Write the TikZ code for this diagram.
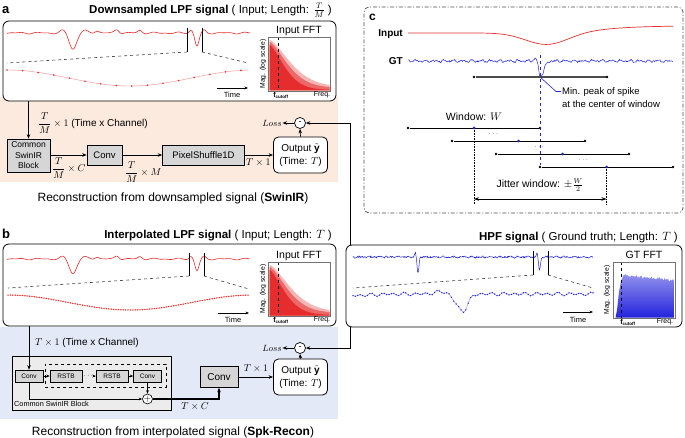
\documentclass[tikz,border=0pt]{standalone}
\usepackage{amsmath}
\usepackage{fontspec}
\setmainfont{Liberation Sans}
\usetikzlibrary{arrows.meta}
\definecolor{sigred}{RGB}{230,45,45}
\definecolor{sigblue}{RGB}{35,35,220}
\definecolor{pinkbg}{RGB}{252,234,222}
\definecolor{bluebg}{RGB}{228,233,247}
\definecolor{boxgray}{RGB}{214,214,214}
\definecolor{outgray}{RGB}{236,236,236}
\newcommand{\myfs}[1]{\fontsize{#1}{#1}\selectfont}
\newcommand{\redfft}{%
  \fill[sigred!35] (269.5,90.5) -- plot[domain=269.6:329.5,samples=60] (\x,{87-47*exp(0-(((\x-269.5)/28)^1.5))}) -- (329.5,90.5) -- cycle;
  \fill[sigred!72] (269.5,90.5) -- plot[domain=269.6:329.5,samples=60] (\x,{88-46*exp(0-(((\x-269.5)/24)^1.5))}) -- (329.5,90.5) -- cycle;
  \fill[sigred] (269.5,90.5) -- plot[domain=269.6:329.5,samples=60] (\x,{90-45*exp(0-(((\x-269.5)/20)^1.5))}) -- (329.5,90.5) -- cycle;
}
\begin{document}
\begin{tikzpicture}[x=1pt,y=-1pt,
  declare function={
    bump(\t,\c,\w)=exp(0-((min(abs(\t-\c)/\w,4))^2));
    wig(\t)=0.9*sin(mod(\t,9.3)*38.71)+0.6*sin(mod(\t,5.7)*63.16)+0.4*sin(mod(\t,3.1)*116.13);
    lpf(\t)=16*bump(\t,73,5)-2.5*bump(\t,63,4)-2.5*bump(\t,84,4)-2.5*bump(\t,97,3)-3.5*bump(\t,117,3)-2.5*bump(\t,140,3)+13*bump(\t,197,2.8)-3*bump(\t,191,2.5)-2.5*bump(\t,204,2.5)+0.6*sin(mod(\t,23)*15.652)+0.4*sin(mod(\t,13)*27.69);
    hpl(\t)=294+1.2*sin(mod(\t,11)*32.727)+0.6*sin(mod(\t,17)*21.176)-2.5*bump(\t,443,10)+17*bump(\t,463,(\t<463)*10+(\t>=463)*7)+1.5*bump(\t,353,25);
    rc(\t)=33+12*bump(\t,547,30)-7/(1+exp(min((600-\t)/22,9)));
    lowa(\t)=78+8*cos((\t-130)/123*180);
    lowb(\t)=302.5+7.5*cos((\t-130)/123*180);
  },
  arr/.style={-{Stealth[length=4.5pt,width=3.5pt]}, line width=0.7pt},
  sarr/.style={-{Stealth[length=3.5pt,width=2.8pt]}, line width=0.6pt},
  panel/.style={draw, rounded corners=6pt, line width=0.8pt, fill=white, inner sep=0pt},
  gbox/.style={draw, fill=boxgray, line width=0.6pt, inner sep=0pt, align=center},
  sbox/.style={draw, fill=boxgray, line width=0.5pt, inner sep=0pt, minimum height=12pt, font=\myfs{6.5}},
  obox/.style={draw, fill=white, rounded corners=5pt, line width=0.8pt, inner sep=0pt, minimum width=54pt, minimum height=36pt, align=center, font=\fontsize{10}{13.5}\selectfont},
  mcirc/.style={circle, draw, line width=0.7pt, fill=white, minimum size=11pt, inner sep=0pt, font=\myfs{9}},
  zoomdash/.style={dashed, line width=0.6pt, black!75},
  fftbox/.style={draw=black!55, line width=0.5pt, inner sep=0pt},
  bdot/.style={circle, fill=black, inner sep=0pt, minimum size=2.6pt},
  bludot/.style={circle, fill=sigblue, inner sep=0pt, minimum size=3pt},
]
\useasboundingbox (0,0) rectangle (685,438);
\pgfmathsetseed{42}
% ---------------- panel a ----------------
\fill[pinkbg] (0,97) rectangle (338,182);
\node[panel, minimum width=333pt, minimum height=80pt] (boxa) at (169.5,61) {};
\node[anchor=west, inner sep=0pt] (laba) at (2,10) {\myfs{13}\textbf{a}};
\node[anchor=east, inner sep=0pt] (titlea) at (332,10) {\myfs{11.5}\textbf{Downsampled LPF signal} ( Input; Length: $\frac{T}{M}$ )};
\draw[sigred, line width=0.6pt] plot[domain=7:250, samples=244] (\x,{33+lpf(\x)});
\draw[line width=0.6pt] (187,28) -- (187,52) (202,28) -- (202,52);
\draw[zoomdash] (187,52) -- (7,63) (202,52) -- (248,63);
\draw[sigred!55, line width=0.4pt] plot[domain=7:248, samples=80] (\x,{lowa(\x)});
\foreach \x in {7,22.6,...,249} \fill[sigred] (\x,{lowa(\x)}) circle (0.9pt);
\coordinate (ta0) at (217,88); \coordinate (ta1) at (248,88);
\draw[sarr] (ta0) -- (ta1);
\node (timea) at (232,95) {\myfs{7.5}Time};
\redfft
\draw[dashed, line width=0.4pt] (278,37) -- (278,91);
\node[fftbox, minimum width=62pt, minimum height=54pt] (ffta) at (299,64) {};
\node (fftta) at (299,31) {\myfs{10.5}Input FFT};
\node[rotate=90] (maga) at (263,64) {\myfs{6.8}Mag. (log scale)};
\node (fca) at (281,95) {\myfs{7}\textbf{f}\textsubscript{\myfs{4.5}\textbf{cutoff}}};
\node (frqa) at (322,95) {\myfs{7}Freq.};
% flow a
\node[gbox, minimum width=43pt, minimum height=33pt, font=\fontsize{8.5}{10.5}\selectfont] (swa) at (28.5,155.5) {Common\\SwinIR\\Block};
\node[gbox, minimum width=35pt, minimum height=20pt, font=\myfs{9.5}] (conva) at (104.5,155) {Conv};
\node[gbox, minimum width=82pt, minimum height=20pt, font=\myfs{9.5}] (psa) at (203.5,155) {PixelShuffle1D};
\node[obox] (outa) at (300.5,155) {Output $\tilde{\mathbf{y}}$\\(Time: $T$)};
\node[mcirc] (mina) at (300,123) {-};
\node[anchor=east, inner sep=0.5pt] (lossa) at (282.5,123) {\myfs{9.5}$Loss$};
\draw[arr] (boxa.south -| swa.north) -- (swa.north);
\node[anchor=west, inner sep=0pt] (cha) at (38,123) {\myfs{10}$\displaystyle\frac{T}{M}\times 1$ (Time x Channel)};
\draw[arr] (swa.east |- conva.west) -- (conva.west);
\draw[arr] (conva.east) -- (psa.west);
\draw[arr] (psa.east) -- (outa.west |- psa.east);
\node[anchor=west, inner sep=0pt] (tca) at (52,168) {\myfs{10}$\displaystyle\frac{T}{M}\times C$};
\node[anchor=west, inner sep=0pt] (tma) at (125,172) {\myfs{10}$\displaystyle\frac{T}{M}\times M$};
\node[anchor=west, inner sep=0pt] (t1a) at (246,163) {\myfs{10}$T\times 1$};
\draw[arr] (outa.north) -- (mina.south);
\draw[arr] (mina.west) -- (lossa.east);
\node (reca) at (173,198) {\myfs{12}Reconstruction from downsampled signal (\textbf{SwinIR})};
% ---------------- panel b ----------------
\fill[bluebg] (0,327) rectangle (338,419);
\node[panel, minimum width=333pt, minimum height=82pt] (boxb) at (169.5,285) {};
\node[anchor=west, inner sep=0pt] (labb) at (2,234) {\myfs{13}\textbf{b}};
\node[anchor=east, inner sep=0pt] (titleb) at (332,236) {\myfs{11.5}\textbf{Interpolated LPF signal} ( Input; Length: $T$ )};
\draw[sigred, line width=0.6pt] plot[domain=7:250, samples=244] (\x,{259+0.9*lpf(\x)});
\draw[line width=0.6pt] (189,253) -- (189,276) (204,253) -- (204,276);
\draw[zoomdash] (189,276) -- (8,288) (204,276) -- (249,289);
\draw[sigred!55, line width=0.4pt] plot[domain=8:249, samples=80] (\x,{lowb(\x)});
\foreach \x in {8,10.4,...,249} \fill[sigred] (\x,{lowb(\x)}) circle (0.75pt);
\coordinate (tb0) at (218,313); \coordinate (tb1) at (249,313);
\draw[sarr] (tb0) -- (tb1);
\node (timeb) at (233,320) {\myfs{7.5}Time};
\begin{scope}[shift={(0,225)}]
\redfft
\draw[dashed, line width=0.4pt] (278,37) -- (278,91);
\end{scope}
\node[fftbox, minimum width=62pt, minimum height=54pt] (fftb) at (299,289) {};
\node (ffttb) at (299,256) {\myfs{10.5}Input FFT};
\node[rotate=90] (magb) at (263,289) {\myfs{6.8}Mag. (log scale)};
\node (fcb) at (281,320) {\myfs{7}\textbf{f}\textsubscript{\myfs{4.5}\textbf{cutoff}}};
\node (frqb) at (322,320) {\myfs{7}Freq.};
% flow b
\node[anchor=west, inner sep=0pt] (chb) at (35,343) {\myfs{10}$T\times 1$ (Time x Channel)};
\node[draw, fill=outgray, line width=0.6pt, inner sep=0pt, minimum width=159pt, minimum height=54pt] (outerb) at (91.5,383) {};
\node[draw, dashed, line width=0.6pt, inner sep=0pt, minimum width=121pt, minimum height=23pt] (dashb) at (105.5,375.5) {};
\node[sbox, minimum width=28pt] (cv1) at (29,376) {Conv};
\node[sbox, minimum width=32pt] (rs1) at (66,376) {RSTB};
\node[sbox, minimum width=32pt] (rs2) at (112,376) {RSTB};
\node[sbox, minimum width=28pt] (cv3) at (147.5,376) {Conv};
\node[inner sep=0.5pt] (dts) at (89,376) {\myfs{7}$\cdots$};
\node[circle, draw, line width=0.6pt, fill=white, minimum size=10pt, inner sep=0pt] (plus) at (147.5,399) {\myfs{9}$+$};
\node[anchor=west, inner sep=0pt] (swb) at (14,404) {\myfs{7.3}Common SwinIR Block};
\node[gbox, minimum width=38pt, minimum height=21pt, font=\myfs{10}] (cv2) at (219,377) {Conv};
\node[obox] (outb) at (300.5,377) {Output $\tilde{\mathbf{y}}$\\(Time: $T$)};
\node[mcirc] (minb) at (300,348) {-};
\node[anchor=east, inner sep=0.5pt] (lossb) at (282.5,348) {\myfs{9.5}$Loss$};
\draw[arr] (boxb.south -| cv1.north) -- (cv1.north);
\draw[sarr] (cv1.east) -- (rs1.west);
\draw[line width=0.6pt] (rs1.east) -- (dts.west);
\draw[sarr] (dts.east) -- (rs2.west);
\draw[sarr] (rs2.east) -- (cv3.west);
\draw[sarr] (cv3.south) -- (plus.north);
\draw[sarr] (cv1.south) |- (plus.west);
\draw[arr, line width=1.2pt] (plus.east) -| (cv2.south);
\node (tcb) at (195,406) {\myfs{10}$T\times C$};
\draw[arr] (cv2.east) -- (outb.west);
\node (t1b) at (256,368) {\myfs{10}$T\times 1$};
\draw[arr] (outb.north) -- (minb.south);
\draw[arr] (minb.west) -- (lossb.east);
\node (recb) at (173,432) {\myfs{12}Reconstruction from interpolated signal (\textbf{Spk-Recon})};
% ---------------- HPF panel ----------------
\node[anchor=east, inner sep=0pt] (titleh) at (678,238) {\myfs{11.5}\textbf{HPF signal} ( Ground truth; Length: $T$ )};
\node[panel, minimum width=336pt, minimum height=82pt] (hpf) at (514,286) {};
\draw[sigblue, line width=0.5pt] plot[domain=353:593, samples=481] (\x,{257+0.7*rand+0.4*wig(\x)+16*bump(\x,418,1.3)-4*bump(\x,415.5,1)+13*bump(\x,539.5,1.3)-4*bump(\x,537,1)});
\draw[line width=0.6pt] (533,251) -- (533,275) (548,251) -- (548,275);
\draw[zoomdash] (533,275) -- (353,288) (548,275) -- (593,288);
\draw[sigblue!55, line width=0.4pt] plot[domain=353:593, samples=120] (\x,{hpl(\x)});
\foreach \x in {353,355.4,...,593} \fill[sigblue] (\x,{hpl(\x)}) circle (0.75pt);
\coordinate (th0) at (563,312); \coordinate (th1) at (593,312);
\draw[sarr] (th0) -- (th1);
\node (timeh) at (578,320) {\myfs{7.5}Time};
\shade[top color=sigblue!50, bottom color=sigblue] (615.5,317.5) -- (617,310) -- (619,292) -- (621,281) -- (623.5,275) -- plot[domain=624:674.5,samples=80] (\x,{275.5+0.09*(\x-624)+1.5*rand}) -- (674.5,317.5) -- cycle;
\draw[dashed, line width=0.4pt] (621,262) -- (621,318);
\node[fftbox, minimum width=62pt, minimum height=56pt] (fftg) at (644,290) {};
\node (ffttg) at (644,255) {\myfs{10.5}GT FFT};
\node[rotate=90] (magg) at (607,290) {\myfs{6.8}Mag. (log scale)};
\node (fcg) at (628,322) {\myfs{7}\textbf{f}\textsubscript{\myfs{4.5}\textbf{cutoff}}};
\node (frqg) at (665,322) {\myfs{7}Freq.};
\coordinate (ha) at (350,245.5);
\coordinate (hb) at (350,326.5);
\draw[arr] (ha) |- (mina.east);
\draw[arr] (hb) |- (minb.east);
% ---------------- panel c ----------------
\node[draw=black!70, line width=0.7pt, dash pattern=on 4pt off 1.8pt on 1pt off 1.8pt, rounded corners=5pt, inner sep=0pt, minimum width=319pt, minimum height=206pt] (boxc) at (523.5,110) {};
\node[anchor=west, inner sep=0pt] (labc) at (369,17) {\myfs{12}\textbf{c}};
\node[anchor=east, inner sep=0pt] (inl) at (403,34) {\myfs{10}\textbf{Input}};
\draw[sigred, line width=0.7pt] plot[domain=408:673, samples=120] (\x,{rc(\x)});
\node[anchor=east, inner sep=0pt] (gtl) at (403,61) {\myfs{10}\textbf{GT}};
\draw[sigblue, line width=0.5pt] plot[domain=408:673, samples=531] (\x,{61+0.8*wig(\x)+0.5*rand+16*bump(\x,540,(\x<540)*1.8+(\x>=540)*5)-2*bump(\x,535,2.5)});
\coordinate (vtop) at (540,55);
\node[bdot] (w0l) at (474,77) {};
\node[bdot] (w0r) at (607,77) {};
\draw[line width=1.1pt, black!70] (w0l) -- (w0r);
\node[bdot] (w1l) at (408,128) {};
\node[bdot] (w1r) at (540,128) {};
\node[bdot] (w2l) at (452,141) {};
\node[bdot] (w2r) at (585,141) {};
\node[bdot] (w3l) at (496,154) {};
\node[bdot] (w3r) at (629,154) {};
\node[bdot] (w4l) at (540,167) {};
\node[bdot] (w4r) at (673,167) {};
\draw[sigblue, dashed, line width=0.5pt] (vtop) -- (w4l);
\draw[line width=0.7pt] (w1l) -- (w1r);
\draw[line width=0.7pt] (w2l) -- (w2r);
\draw[line width=0.7pt] (w3l) -- (w3r);
\draw[line width=0.7pt] (w4l) -- (w4r);
\node[bludot] (w1m) at (474,128) {};
\node[bludot] (w2m) at (518.5,141) {};
\node[bludot] (w3m) at (562.5,154) {};
\node[bludot] (w4m) at (606.5,167) {};
\node[inner sep=0pt] (e1) at (494,134) {\myfs{6}$\cdots$};
\node[inner sep=0pt] (e2) at (540,147) {\myfs{6}$\cdots$};
\node[inner sep=0pt] (e3) at (584,160) {\myfs{6}$\cdots$};
\coordinate (spk) at (540,77);
\coordinate (cl1) at (556,91.5);
\coordinate (cl2) at (561,91.5);
\draw[sigblue, line width=0.6pt] (spk) -- (cl1) -- (cl2);
\node[anchor=west, align=left, inner sep=0pt, font=\fontsize{9.5}{13}\selectfont] (mintxt) at (562,98) {Min. peak of spike\\at the center of window};
\node (wint) at (474,117) {\myfs{10.5}Window: $W$};
\coordinate (j1) at (474,204);
\coordinate (j2) at (606.5,204);
\draw[densely dotted, line width=0.6pt] (w1m) -- (j1);
\draw[densely dotted, line width=0.6pt] (w4m) -- (j2);
\coordinate (ja) at (474,199);
\coordinate (jb) at (606.5,199);
\draw[{Stealth[length=5pt,width=3.5pt]}-{Stealth[length=5pt,width=3.5pt]}, line width=0.6pt] (ja) -- (jb);
\node (jit) at (540,185) {\myfs{10.5}Jitter window: $\pm\frac{W}{2}$};
\end{tikzpicture}
\end{document}
